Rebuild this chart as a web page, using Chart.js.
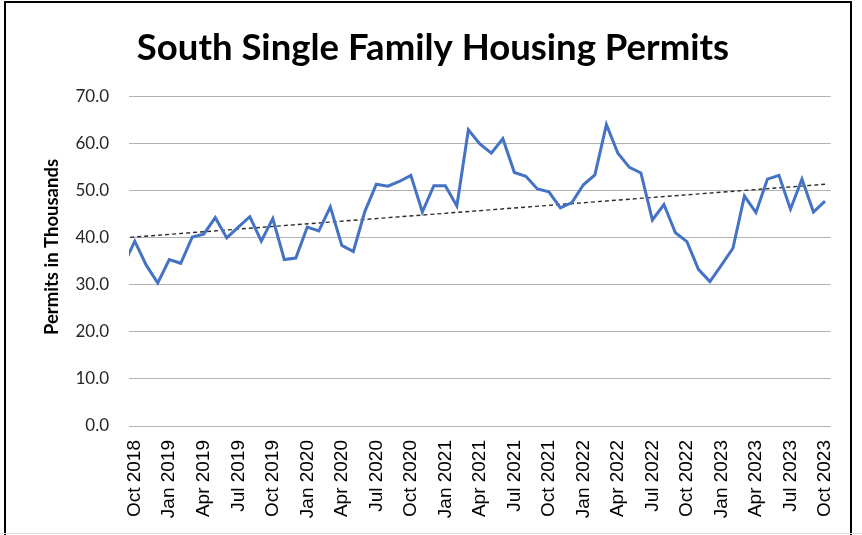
<!DOCTYPE html>
<html>
<head>
<meta charset="utf-8">
<script src="https://cdn.jsdelivr.net/npm/chart.js@4.4.0/dist/chart.umd.min.js"></script>
<style>
  html, body { margin: 0; padding: 0; background: #fff; overflow: hidden; }
  #wrap { position: relative; width: 862px; height: 535px; }
  #grafico { position: absolute; left: 0; top: 0; }
  #moldura { position: absolute; left: 4px; top: 1px; width: 848px; height: 560px;
             border: 2px solid #000; box-sizing: border-box; pointer-events: none; }
  #rodape { position: absolute; left: 0; top: 533px; width: 862px; height: 1px; background: #ddd; }
</style>
</head>
<body>
<div id="wrap">
  <canvas id="grafico" width="862" height="535"></canvas>
  <div id="moldura"></div>
  <div id="rodape"></div>
</div>
<script>
// Dados do gráfico (primeiro mês fica cortado na borda esquerda)
const meses = [
    'Sep 2018',
    'Oct 2018', 'Nov 2018', 'Dec 2018', 'Jan 2019', 'Feb 2019', 'Mar 2019', 'Apr 2019', 'May 2019', 'Jun 2019',
    'Jul 2019', 'Aug 2019', 'Sep 2019', 'Oct 2019', 'Nov 2019', 'Dec 2019', 'Jan 2020', 'Feb 2020', 'Mar 2020',
    'Apr 2020', 'May 2020', 'Jun 2020', 'Jul 2020', 'Aug 2020', 'Sep 2020', 'Oct 2020', 'Nov 2020', 'Dec 2020',
    'Jan 2021', 'Feb 2021', 'Mar 2021', 'Apr 2021', 'May 2021', 'Jun 2021', 'Jul 2021', 'Aug 2021', 'Sep 2021',
    'Oct 2021', 'Nov 2021', 'Dec 2021', 'Jan 2022', 'Feb 2022', 'Mar 2022', 'Apr 2022', 'May 2022', 'Jun 2022',
    'Jul 2022', 'Aug 2022', 'Sep 2022', 'Oct 2022', 'Nov 2022', 'Dec 2022', 'Jan 2023', 'Feb 2023', 'Mar 2023',
    'Apr 2023', 'May 2023', 'Jun 2023', 'Jul 2023', 'Aug 2023', 'Sep 2023', 'Oct 2023'
];

const licencas = [
    34.1,
    39.3, 34.2, 30.4, 35.4, 34.6, 40.2, 40.8, 44.3, 40.0,
    42.3, 44.5, 39.3, 44.1, 35.4, 35.7, 42.3, 41.5, 46.6,
    38.4, 37.1, 45.6, 51.4, 51.0, 52.0, 53.3, 45.5, 51.1,
    51.1, 46.8, 63.0, 60.0, 58.0, 61.1, 53.9, 53.1, 50.4,
    49.8, 46.4, 47.5, 51.3, 53.4, 64.1, 58.0, 55.0, 53.8,
    43.8, 47.1, 41.1, 39.2, 33.3, 30.7, 34.2, 37.8, 48.9,
    45.4, 52.5, 53.3, 46.1, 52.5, 45.5, 47.8
];

// Linha de tendência: valores lidos no início (Sep 2018) e no fim (Oct 2023)
const tendenciaMeses = ['Sep 2018', 'Oct 2023'];
const tendenciaValores = [40.0, 51.4];

// Rótulos do eixo X (a cada 3 meses)
const rotulosX = [
    'Oct 2018', 'Jan 2019', 'Apr 2019', 'Jul 2019', 'Oct 2019', 'Jan 2020', 'Apr 2020',
    'Jul 2020', 'Oct 2020', 'Jan 2021', 'Apr 2021', 'Jul 2021', 'Oct 2021', 'Jan 2022',
    'Apr 2022', 'Jul 2022', 'Oct 2022', 'Jan 2023', 'Apr 2023', 'Jul 2023', 'Oct 2023'
];

const rotulosY = ['0.0', '10.0', '20.0', '30.0', '40.0', '50.0', '60.0', '70.0'];

const titulo = 'South Single Family Housing Permits';
const tituloEixoY = 'Permits in Thousands';

// Posição de cada mês: Oct 2018 = 0
const posicaoMes = mes => meses.indexOf(mes) - 1;
const pontos = licencas.map((v, i) => ({ x: posicaoMes(meses[i]), y: v }));
const tendencia = tendenciaValores.map((v, i) => ({ x: posicaoMes(tendenciaMeses[i]), y: v }));

// Título do eixo Y desenhado à mão (centralizado como no original)
const pluginTituloEixo = {
    id: 'tituloEixo',
    afterDraw(chart) {
        const ctx = chart.ctx;
        ctx.save();
        ctx.translate(52, 247);
        ctx.rotate(-Math.PI / 2);
        ctx.font = 'bold 18.5px Lato';
        ctx.fillStyle = '#000';
        ctx.textAlign = 'center';
        ctx.textBaseline = 'middle';
        ctx.fillText(tituloEixoY, 0, 0);
        ctx.restore();
    }
};

new Chart(document.getElementById('grafico'), {
    type: 'line',
    data: {
        datasets: [{
            label: 'Permits',
            data: pontos,
            borderColor: '#4472C4',
            borderWidth: 3,
            pointRadius: 0,
            tension: 0,
            fill: false
        }, {
            label: 'Trend',
            data: tendencia,
            borderColor: '#2b2b2b',
            borderWidth: 1.4,
            borderDash: [4, 3],
            pointRadius: 0,
            fill: false
        }]
    },
    options: {
        responsive: false,
        animation: false,
        devicePixelRatio: 1,
        layout: {
            padding: { left: 32, right: 28, top: 0, bottom: 0 }
        },
        scales: {
            x: {
                type: 'linear',
                min: -0.5,
                max: 60.5,
                afterFit: scale => { scale.height = 109; },
                afterBuildTicks: scale => {
                    scale.ticks = rotulosX.map((r, i) => ({ value: i * 3 }));
                },
                border: { display: false },
                grid: { display: false, drawTicks: false },
                ticks: {
                    autoSkip: false,
                    minRotation: 90,
                    maxRotation: 90,
                    padding: 14,
                    color: '#000',
                    font: { family: 'Liberation Sans', size: 19 },
                    callback: value => rotulosX[value / 3]
                }
            },
            y: {
                min: 0,
                max: 70,
                afterFit: scale => { scale.width = 97; },
                border: { display: false },
                grid: { color: '#b3b3b3', lineWidth: 1, drawTicks: false },
                ticks: {
                    stepSize: 10,
                    padding: 20,
                    color: '#262626',
                    font: { family: 'Lato', size: 17 },
                    callback: value => rotulosY[value / 10]
                }
            }
        },
        plugins: {
            legend: { display: false },
            tooltip: { enabled: false },
            title: {
                display: true,
                text: titulo,
                color: '#000',
                font: { family: 'Lato', size: 36.5, weight: 'bold' },
                padding: { top: 26, bottom: 27 }
            }
        }
    },
    plugins: [pluginTituloEixo]
});
</script>
</body>
</html>
